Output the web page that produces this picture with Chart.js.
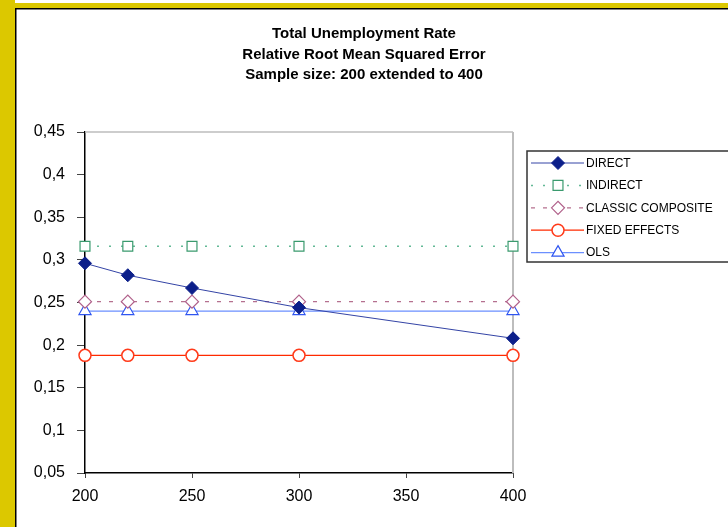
<!DOCTYPE html>
<html>
<head>
<meta charset="utf-8">
<script src="https://cdn.jsdelivr.net/npm/chart.js@4/dist/chart.umd.min.js"></script>
<style>
  html, body { margin: 0; padding: 0; background: #fff; }
  canvas { display: block; }
</style>
</head>
<body>
<canvas id="c" width="728" height="527"></canvas>
<script>
// Sample sizes on the x axis
const sampleSizes = [200, 220, 250, 300, 400];

// Relative RMSE per estimator
const direct    = [0.296, 0.282, 0.267, 0.244, 0.208];
const indirect  = [0.316, 0.316, 0.316, 0.316, 0.316];
const classic   = [0.251, 0.251, 0.251, 0.251, 0.251];
const fixedEff  = [0.188, 0.188, 0.188, 0.188, 0.188];
const ols       = [0.240, 0.240, 0.240, 0.240, 0.240];

const seriesNames = ['DIRECT', 'INDIRECT', 'CLASSIC COMPOSITE', 'FIXED EFFECTS', 'OLS'];

const titleLines = [
  'Total Unemployment Rate',
  'Relative Root Mean Squared Error',
  'Sample size: 200 extended to 400'
];

const yTickValues = [0.05, 0.1, 0.15, 0.2, 0.25, 0.3, 0.35, 0.4, 0.45];
const xTickValues = [200, 250, 300, 350, 400];

const FONT = "'Liberation Sans', Arial, sans-serif";

function pts(values) {
  return values.map((v, i) => ({ x: sampleSizes[i], y: v }));
}

const datasets = [
  {
    label: seriesNames[0], data: pts(direct),
    borderColor: '#3444a6', borderWidth: 1,
    pointStyle: 'rectRot', pointRadius: 6.5,
    pointBackgroundColor: '#0c1f8a', pointBorderColor: '#0c1f8a', pointBorderWidth: 1,
    legendMarkerColor: '#0c1f8a'
  },
  {
    label: seriesNames[1], data: pts(indirect),
    borderColor: '#63b996', borderWidth: 1.5, borderDash: [2, 10],
    pointStyle: 'rect', pointRadius: 7,
    pointBackgroundColor: '#ffffff', pointBorderColor: '#3a9a6e', pointBorderWidth: 1.2
  },
  {
    label: seriesNames[2], data: pts(classic),
    borderColor: '#b5708f', borderWidth: 1.2, borderDash: [4, 8],
    pointStyle: 'rectRot', pointRadius: 6.5,
    pointBackgroundColor: '#ffffff', pointBorderColor: '#b0608a', pointBorderWidth: 1.2
  },
  {
    label: seriesNames[3], data: pts(fixedEff),
    borderColor: '#ff2a00', borderWidth: 1.2,
    pointStyle: 'circle', pointRadius: 6,
    pointBackgroundColor: '#ffffff', pointBorderColor: '#ff3a1a', pointBorderWidth: 1.5
  },
  {
    label: seriesNames[4], data: pts(ols),
    borderColor: '#6b8fff', borderWidth: 1.2,
    pointStyle: 'triangle', pointRadius: 7,
    pointBackgroundColor: '#ffffff', pointBorderColor: '#2f55f0', pointBorderWidth: 1.2
  }
];
datasets.forEach(d => { d.fill = false; d.tension = 0; d.clip = false; });

// Page frame: yellow band with a black rule along top and left
const framePlugin = {
  id: 'frame',
  beforeDraw(chart) {
    const ctx = chart.ctx;
    ctx.save();
    ctx.fillStyle = '#ffffff';
    ctx.fillRect(0, 0, chart.width, chart.height);
    ctx.fillStyle = '#dcc800';
    ctx.fillRect(0, 3, chart.width, 5.5);
    ctx.fillRect(0, 0, 15, chart.height);
    ctx.fillStyle = '#000000';
    ctx.fillRect(15, 8, chart.width - 15, 1.5);
    ctx.fillRect(15, 8, 1.5, chart.height - 8);
    ctx.restore();
  },
  beforeDatasetsDraw(chart) {
    const { ctx, chartArea: a } = chart;
    ctx.save();
    ctx.strokeStyle = '#bdbdbd';
    ctx.lineWidth = 1.5;
    ctx.beginPath();
    ctx.moveTo(a.left, a.top);
    ctx.lineTo(a.right, a.top);
    ctx.stroke();
    ctx.lineWidth = 2;
    ctx.beginPath();
    ctx.moveTo(a.right, a.top);
    ctx.lineTo(a.right, a.bottom);
    ctx.stroke();
    ctx.restore();
  }
};

// Three-line title centred over the page
const titlePlugin = {
  id: 'titleLines',
  afterDraw(chart) {
    const ctx = chart.ctx;
    ctx.save();
    ctx.font = 'bold 15px ' + FONT;
    ctx.fillStyle = '#000';
    ctx.textAlign = 'center';
    ctx.textBaseline = 'alphabetic';
    titleLines.forEach((t, i) => ctx.fillText(t, 364, 38 + i * 20.5));
    ctx.restore();
  }
};

// Boxed legend on the right, using each dataset's own line and marker style
const legendPlugin = {
  id: 'boxLegend',
  afterDraw(chart) {
    const ctx = chart.ctx;
    const box = { x: 527, y: 151, w: 210, h: 111 };
    ctx.save();
    ctx.fillStyle = '#ffffff';
    ctx.fillRect(box.x, box.y, box.w, box.h);
    ctx.strokeStyle = '#333333';
    ctx.lineWidth = 1.5;
    ctx.strokeRect(box.x, box.y, box.w, box.h);
    chart.data.datasets.forEach((d, i) => {
      const y = 163 + i * 22.4;
      ctx.save();
      ctx.strokeStyle = d.borderColor;
      ctx.lineWidth = d.borderWidth;
      ctx.setLineDash(d.borderDash || []);
      ctx.beginPath();
      ctx.moveTo(531, y);
      ctx.lineTo(584, y);
      ctx.stroke();
      ctx.restore();
      ctx.save();
      ctx.fillStyle = d.pointBackgroundColor;
      ctx.strokeStyle = d.pointBorderColor;
      ctx.lineWidth = d.pointBorderWidth;
      Chart.helpers.drawPoint(ctx, { pointStyle: d.pointStyle, radius: d.pointRadius, borderWidth: d.pointBorderWidth, rotation: 0 }, 558, y);
      ctx.restore();
      ctx.fillStyle = '#000';
      ctx.font = '12px ' + FONT;
      ctx.textAlign = 'left';
      ctx.textBaseline = 'middle';
      ctx.fillText(d.label, 586, y + 0.5);
    });
    ctx.restore();
  }
};

new Chart(document.getElementById('c'), {
  type: 'line',
  data: { datasets },
  options: {
    responsive: false,
    animation: false,
    devicePixelRatio: 1,
    layout: { padding: { top: 132, right: 215, left: 0, bottom: 0 } },
    plugins: { legend: { display: false }, title: { display: false }, tooltip: { enabled: false } },
    scales: {
      x: {
        type: 'linear', min: 200, max: 400,
        afterBuildTicks(scale) { scale.ticks = xTickValues.map(v => ({ value: v })); },
        afterFit(scale) { scale.height = 54; },
        grid: { drawOnChartArea: false, drawTicks: true, tickLength: 5, color: '#444' },
        border: { color: '#000', width: 1.5 },
        ticks: { color: '#000', font: { family: FONT, size: 16 }, padding: 9, maxRotation: 0 }
      },
      y: {
        type: 'linear', min: 0.05, max: 0.45,
        afterBuildTicks(scale) { scale.ticks = yTickValues.map(v => ({ value: v })); },
        afterFit(scale) { scale.width = 85; },
        grid: { drawOnChartArea: false, drawTicks: true, tickLength: 8, color: '#444' },
        border: { color: '#000', width: 1.5 },
        ticks: {
          color: '#000', font: { family: FONT, size: 16 }, padding: 12,
          callback: v => String(Number(v.toFixed(2))).replace('.', ',')
        }
      }
    }
  },
  plugins: [framePlugin, titlePlugin, legendPlugin]
});
</script>
</body>
</html>
